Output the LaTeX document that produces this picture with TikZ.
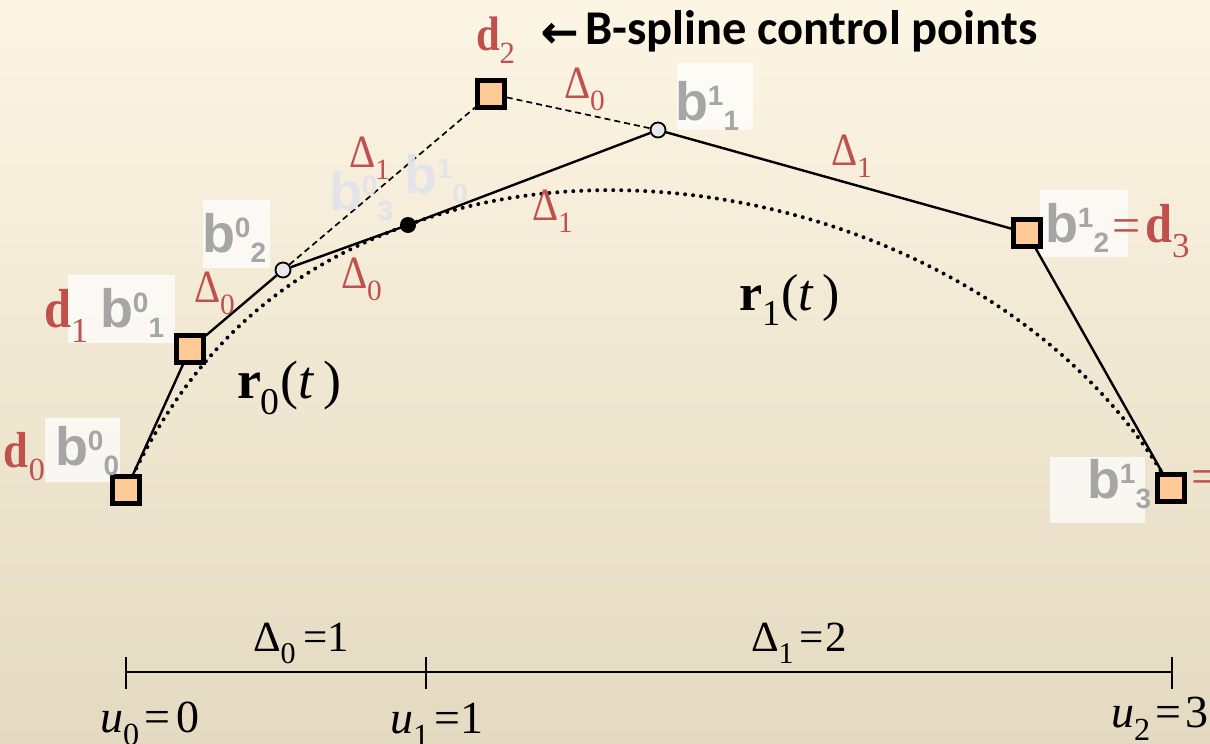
\documentclass[tikz,border=0pt]{standalone}
\usepackage{fontspec}
\usepackage{graphicx}
\setmainfont{Liberation Serif}
\newfontfamily\bfam{Liberation Sans}
\newfontfamily\tfam{Carlito}
\newfontfamily\afam[FakeBold=3]{DejaVu Sans}
\definecolor{redl}{RGB}{192,80,77}
\definecolor{greyl}{RGB}{166,166,166}
\definecolor{faint}{RGB}{224,227,235}
\definecolor{peach}{RGB}{255,202,150}
\definecolor{ocfill}{RGB}{230,232,236}
\definecolor{bgtop}{RGB}{253,245,228}
\definecolor{bgbot}{RGB}{228,218,193}
\newcommand\sbs[1]{\raisebox{-0.3em}{\scalebox{0.7}{#1}}}
\newcommand\tall[1]{\scalebox{0.97}[1.1]{#1}}
\newcommand\blabel[2]{{\bfam\bfseries\fontsize{54}{54}\selectfont b}{\bfam\bfseries\fontsize{28}{28}\selectfont\raisebox{15pt}{#1}\raisebox{-10pt}{#2}}}
\newcommand\fs[1]{\fontsize{#1}{#1}\selectfont}
\pgfdeclarelayer{back}
\pgfdeclarelayer{bg}
\pgfsetlayers{back,bg,main}
\tikzset{
  sq/.style={rectangle, draw, line width=4.5pt, fill=peach, minimum size=27pt, inner sep=0pt},
  oc/.style={circle, draw, line width=1.8pt, fill=ocfill, minimum size=15pt, inner sep=0pt},
  fd/.style={circle, fill=black, minimum size=16pt, inner sep=0pt},
  poly/.style={line width=2.4pt},
  dsh/.style={line width=1.7pt, dash pattern=on 6pt off 4pt},
  dotc/.style={line width=4pt, line cap=round, dash pattern=on 0pt off 8pt},
  lbl/.style={anchor=base west, inner sep=0pt, outer sep=0pt},
  redtxt/.style={lbl, text=redl},
  greytxt/.style={lbl, text=greyl},
  fainttxt/.style={lbl, text=faint, text opacity=0.9},
  labbox/.style={fill=white, fill opacity=0.72},
  axis/.style={line width=2pt},
}
\begin{document}
\begin{tikzpicture}[x=1pt, y=-1pt]
\useasboundingbox (0,0) rectangle (1210,744);
\begin{pgfonlayer}{back}
\shade[top color=bgtop, bottom color=bgbot] (0,0) rectangle (1210,744);
\fill[labbox] (45,418) rectangle (120,482);
\fill[labbox] (68,275) rectangle (175,343);
\fill[labbox] (203,200) rectangle (270,268);
\fill[labbox] (677,63) rectangle (753,130);
\fill[labbox] (1040,190) rectangle (1128,257);
\fill[labbox] (1050,457) rectangle (1145,523);
\end{pgfonlayer}

% control points
\node[sq] (S0) at (126,490) {};
\node[sq] (S1) at (190,349) {};
\node[sq] (S2) at (491,94) {};
\node[sq] (S3) at (1027,233) {};
\node[sq] (S4) at (1171,488) {};
\node[oc] (C02) at (283,270) {};
\node[oc] (C11) at (658,130) {};
\node[fd] (Dot) at (408,225) {};

\begin{pgfonlayer}{bg}
\draw[dotc] (S0.center) .. controls (S1.center) and (C02.center) .. (Dot.center)
            .. controls (C11.center) and (S3.center) .. (S4.center);
\draw[poly] (S0) -- (S1) -- (C02) -- (Dot) -- (C11) -- (S3) -- (S4);
\draw[dsh] (C02) -- (S2) -- (C11);
\end{pgfonlayer}

% grey b labels
\node[greytxt] (b00) at (55,465) {\blabel{0}{0}};
\node[greytxt] (b01) at (100,327) {\blabel{0}{1}};
\node[greytxt] (b02) at (202,252) {\blabel{0}{2}};
\node[fainttxt] (b03) at (329,210) {\blabel{0}{3}};
\node[fainttxt] (b10) at (404,193) {\blabel{1}{0}};
\node[greytxt] (b11) at (675,120) {\blabel{1}{1}};
\node[greytxt] (b12) at (1045,242) {\blabel{1}{2}};
\node[greytxt] (b13) at (1087,498) {\blabel{1}{3}};

% red d labels
\node[redtxt] (d0) at (4,467) {\fs{46}\tall{\textbf{d}}\sbs{0}};
\node[redtxt] (d1) at (44,327) {\fs{50}\tall{\textbf{d}}\sbs{1}};
\node[redtxt] (d2) at (476,50) {\fs{44}\tall{\textbf{d}}\sbs{2}};
\node[redtxt] (d3) at (1112,242) {\fs{50}=\hspace{5pt}\tall{\textbf{d}}\sbs{3}};
\node[redtxt] (eq4) at (1191,493) {\fs{50}=};

% red Delta labels
\node[redtxt] (D0a) at (564,98) {\fs{42}\tall{Δ}\sbs{0}};
\node[redtxt] (D1a) at (349,167) {\fs{42}\tall{Δ}\sbs{1}};
\node[redtxt] (D1b) at (532,220) {\fs{42}\tall{Δ}\sbs{1}};
\node[redtxt] (D1c) at (831,165) {\fs{42}\tall{Δ}\sbs{1}};
\node[redtxt] (D0b) at (194,302) {\fs{42}\tall{Δ}\sbs{0}};
\node[redtxt] (D0c) at (341,288) {\fs{42}\tall{Δ}\sbs{0}};

% curve names
\node[lbl] (r0) at (237,398) {\fs{54}\textbf{r}\sbs{0}\hspace{1pt}(\textit{t}\hspace{9pt})};
\node[lbl] (r1) at (739,310) {\fs{52}\textbf{r}\sbs{1}\hspace{1pt}(\textit{t}\hspace{8pt})};

% title
\node[lbl] (arrow) at (541,47) {\afam\fs{44}←};
\node[lbl] (title) at (585,44) {\tfam\bfseries\fs{48.5}B-spline control points};

% knot axis
\coordinate (U0) at (126,672);
\coordinate (U1) at (426,672);
\coordinate (U2) at (1172,672);
\draw[axis] (U0) -- (U1) -- (U2);
\draw[axis] ([yshift=15pt]U0) -- ([yshift=-17pt]U0);
\draw[axis] ([yshift=15pt]U1) -- ([yshift=-17pt]U1);
\draw[axis] ([yshift=15pt]U2) -- ([yshift=-17pt]U2);
\node[lbl] (k0) at (253,651) {\fs{43}Δ\sbs{0}\hspace{8pt}=1};
\node[lbl] (k1) at (751,651) {\fs{43}Δ\sbs{1}\hspace{6pt}=\hspace{2pt}2};
\node[lbl] (u0) at (100,732) {\fs{46}\textit{u}\sbs{0}\hspace{5pt}=\hspace{6pt}0};
\node[lbl] (u1) at (390,733) {\fs{46}\textit{u}\sbs{1}\hspace{5pt}=1};
\node[lbl] (u2) at (1111,727) {\fs{46}\textit{u}\sbs{2}\hspace{5pt}=\hspace{4pt}3};
\end{tikzpicture}
\end{document}
